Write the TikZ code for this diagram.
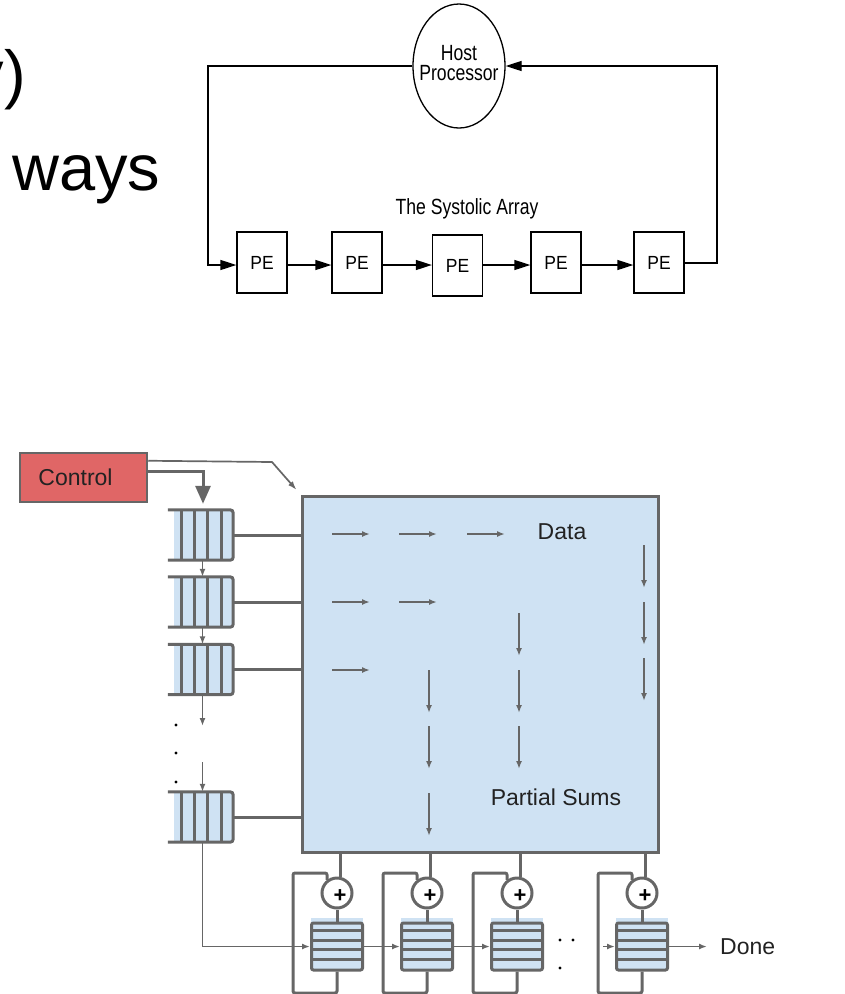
\documentclass[tikz,border=0pt]{standalone}
\usepackage{fontspec}
\setmainfont{Liberation Sans}
\usetikzlibrary{arrows.meta,shapes.geometric,calc}

\definecolor{ctrlred}{HTML}{E06666}
\definecolor{paleblue}{HTML}{CFE2F3}
\definecolor{wiregray}{HTML}{666666}
\definecolor{textdark}{HTML}{222222}

% slightly condensed lettering for the host/array sketch
\newcommand\cond[1]{\scalebox{0.8}[1]{#1}}

\begin{document}
\begin{tikzpicture}[x=1pt,y=-1pt,
  bigtext/.style={font=\fontsize{65}{70}\selectfont, inner sep=0},
  toptext/.style={font=\fontsize{22}{24}\selectfont, inner sep=0},
  pebox/.style={draw=black, line width=1.3pt, minimum width=50pt, minimum height=61pt,
                inner sep=0, font=\fontsize{19}{20}\selectfont},
  topwire/.style={draw=black, line width=1.3pt},
  toparrow/.style={topwire, -{Triangle[length=16pt,width=10pt]}},
  wire/.style={draw=wiregray, line width=3pt},
  thinwire/.style={draw=wiregray, line width=1.7pt},
  thinarrow/.style={thinwire, -{Latex[length=8pt,width=6pt]}},
  label/.style={font=\fontsize{23}{24}\selectfont, text=textdark, inner sep=0},
  fifo/.style={minimum width=65pt, minimum height=50pt, inner sep=0},
  queue/.style={draw=wiregray, line width=3pt, fill=paleblue, rounded corners=2pt,
                minimum width=51pt, minimum height=47pt, inner sep=0},
  adder/.style={circle, draw=wiregray, line width=3pt, fill=white, minimum size=30pt, inner sep=0},
]
\useasboundingbox (0,0) rectangle (845,994);

% ---- large slide text ----
\node[bigtext, anchor=base east] (lineA) at (26,96) {y)};
\node[bigtext, anchor=base west] (lineB) at (12,190) {ways};

% ---- host processor and the systolic array ----
\node[ellipse, draw=black, line width=1.3pt, minimum width=92pt, minimum height=124pt, inner sep=0]
  (host) at (459,66) {};
\node[toptext, anchor=base] (hostA) at (459,60) {\cond{Host}};
\node[toptext, anchor=base] (hostB) at (459,80) {\cond{Processor}};

\node[toptext] (arraylbl) at (467,209) {\cond{The Systolic Array}};

\node[pebox] (pe1) at (262,262.5) {\scalebox{0.92}[1]{PE}};
\node[pebox] (pe2) at (357,262.5) {\scalebox{0.92}[1]{PE}};
\node[pebox] (pe3) at (457.5,265.5) {\scalebox{0.92}[1]{PE}};
\node[pebox] (pe4) at (556,262.5) {\scalebox{0.92}[1]{PE}};
\node[pebox] (pe5) at (659,262.5) {\scalebox{0.92}[1]{PE}};

\coordinate (rowy) at (0,265);
\coordinate (backy) at (0,263);
\draw[toparrow] (host.west) -| (208,265) -- (pe1.west |- rowy);
\draw[toparrow] (pe1.east |- rowy) -- (pe2.west |- rowy);
\draw[toparrow] (pe2.east |- rowy) -- (pe3.west |- rowy);
\draw[toparrow] (pe3.east |- rowy) -- (pe4.west |- rowy);
\draw[toparrow] (pe4.east |- rowy) -- (pe5.west |- rowy);
\draw[toparrow] (pe5.east |- backy) -| (717,66) -- (host.east);

% ---- control unit and data array ----
\node[draw=wiregray, line width=2.5pt, fill=ctrlred, minimum width=127pt, minimum height=49pt,
      inner sep=0, font=\fontsize{23}{24}\selectfont, text=textdark]
  (control) at (83.5,477.5) {\hspace*{-16pt}Control};

\node[draw=wiregray, line width=3pt, fill=paleblue, minimum width=356pt, minimum height=356pt,
      inner sep=0] (big) at (480,674) {};

% input FIFOs feeding the rows
\foreach \i/\y in {1/535, 2/602, 3/669.5, 4/817} {
  \node[fifo] (f\i) at (200.5,\y) {};
  \fill[paleblue] ([xshift=6pt]f\i.south west) rectangle (f\i.north east);
  \draw[wire, rounded corners=3pt] (f\i.north west) -- (f\i.north east)
       -- (f\i.south east) -- (f\i.south west);
  \foreach \d in {14,27,40,53.5}
    \draw[wire] ([xshift=\d pt]f\i.north west) -- ([xshift=\d pt]f\i.south west);
  \draw[wire] (f\i.east) -- (f\i.east -| big.west);
}

\draw[thinwire, -{Latex[length=9pt,width=6pt]}, shorten >=6pt]
  ($(control.north east)+(0,9)$) -- (272,462) -- (big.north west);
\draw[wire, -{Triangle[length=18pt,width=15pt]}, shorten >=6pt]
  ($(control.north east)+(0,20)$) -| ([xshift=2.5pt]f1.north);

\draw[thinarrow] ([xshift=2pt]f1.south) -- ([xshift=2pt]f2.north);
\draw[thinarrow] ([xshift=2pt]f2.south) -- ([xshift=2pt]f3.north);
\coordinate (gapA) at (202.5,726);
\coordinate (gapB) at (202.5,762);
\draw[thinarrow] ([xshift=2pt]f3.south) -- (gapA);
\draw[thinarrow] (gapB) -- ([xshift=2pt]f4.north);
\foreach \y in {725,753,782} \fill[black] (176,\y) circle (1.7pt);

% data and partial-sum flow inside the array
\foreach \x/\y in {332/534, 399/534, 467/534, 332/602, 399/602, 332/670}
  \draw[thinarrow] (\x,\y) -- ++(38,0);
\foreach \x/\y in {644/545, 644/602, 644/658, 519/613, 519/670, 519/726, 429/670, 429/726, 429/793}
  \draw[thinarrow] (\x,\y) -- ++(0,43);
\node[label] (datalbl) at (562,532) {Data};
\node[label] (sumlbl) at (556,797) {Partial Sums};

% ---- accumulator units ----
\foreach \i/\c in {1/337, 2/427, 3/517, 4/642} {
  \fill[paleblue] (\c-26,918) rectangle (\c+26,930);
  \node[queue] (q\i) at (\c,946.5) {};
  \foreach \k in {1,...,4}
    \draw[wire] ($(q\i.north west)+(0,9.4*\k)$) -- ($(q\i.north east)+(0,9.4*\k)$);
  \node[adder] (a\i) at (\c,893) {};
  \node[font=\bfseries\fontsize{22}{22}\selectfont, inner sep=0] (p\i) at (\c+3,896) {+};
  \draw[wire] (a\i.78) -- (a\i.78 |- big.south);
  \draw[wire] (a\i.south) -- (q\i.north);
  \draw[wire, rounded corners=2pt] (a\i.127) |- (\c-44,873) -- (\c-44,993) -| (q\i.south);
}

\draw[thinarrow] ([xshift=2pt]f4.south) |- (q1.west);
\draw[thinarrow] (q1.east) -- (q2.west);
\draw[thinarrow] (q2.east) -- (q3.west);
\coordinate (q4in) at (603,946.5);
\draw[thinarrow] (q4in) -- (q4.west);
\foreach \x/\y in {560/940, 573/940, 560/968} \fill[black] (\x,\y) circle (1.6pt);

\node[label, anchor=west] (done) at (720,946.5) {Done};
\draw[thinarrow] (q4.east) -- ([xshift=-13pt]done.west);
\end{tikzpicture}
\end{document}
